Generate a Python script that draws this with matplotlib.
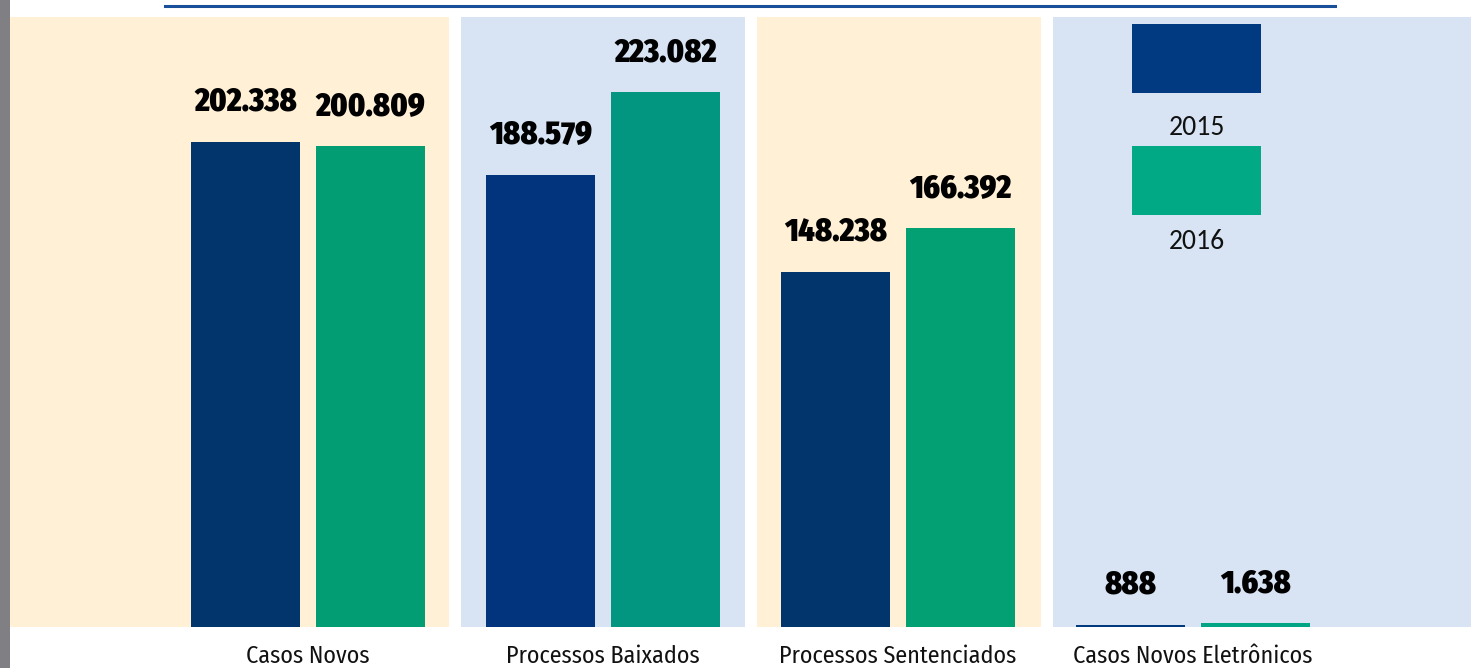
import matplotlib
matplotlib.use("Agg")
import matplotlib.pyplot as plt
from matplotlib import font_manager as fm
from matplotlib.patches import Rectangle
from matplotlib.lines import Line2D

# ---------------- data ----------------
categories = ["Casos Novos", "Processos Baixados", "Processos Sentenciados", "Casos Novos Eletrônicos"]
series_names = ["2015", "2016"]
values_2015 = [202338, 188579, 148238, 888]
values_2016 = [200809, 223082, 166392, 1638]

# ---------------- styles ----------------
colors_2015 = ["#03356D", "#02337D", "#03356D", "#023A80"]
colors_2016 = ["#029D72", "#02957F", "#02A073", "#01A584"]
legend_colors = ["#013A80", "#01A985"]
panel_colors = ["#FFF0D6", "#D8E4F4", "#FFF0D6", "#D8E4F4"]


def avail(name):
    try:
        fm.findfont(fm.FontProperties(family=name), fallback_to_default=False)
        return True
    except Exception:
        return False


def pick(names):
    for n in names:
        if avail(n):
            return n
    return "DejaVu Sans"


heavy = pick(["Fira Sans Condensed", "Roboto Condensed", "Roboto"])
narrow = pick(["Fira Sans Condensed", "Archivo Narrow", "Roboto Condensed", "Roboto"])
legfont = pick(["Carlito", "Fira Sans Condensed", "Roboto"])

W, H = 1471, 668
DPI = 100
fig = plt.figure(figsize=(W / DPI, H / DPI), dpi=DPI, facecolor="white")
renderer = fig.canvas.get_renderer()


def fit(artist, target_px):
    for _ in range(3):
        w = artist.get_window_extent(renderer).width
        if w > 0:
            artist.set_fontsize(artist.get_fontsize() * target_px / w)


UNIT = 295.0      # pixels per group
X0 = 308.0        # pixel centre of first group
base_px, top_px = 627, 17
ax = fig.add_axes([0, (H - base_px) / H, 1, (base_px - top_px) / H])
ax.set_xlim(-X0 / UNIT, (W - X0) / UNIT)
ax.set_ylim(0, 254480)
ax.set_facecolor("white")
for s in ax.spines.values():
    s.set_visible(False)
ax.set_yticks([])
ax.set_xticks([])


def px2x(p):
    return (p - X0) / UNIT


# panels
panel_edges = [(10, 449), (461, 745), (757, 1041), (1053, 1471)]
for (l, r), c in zip(panel_edges, panel_colors):
    ax.axvspan(px2x(l), px2x(r), color=c, lw=0, zorder=0)

bw = 109 / UNIT
off = 62.5 / UNIT
xs = list(range(len(categories)))
ax.bar([x - off for x in xs], values_2015, width=bw, color=colors_2015, zorder=2)
ax.bar([x + off for x in xs], values_2016, width=bw, color=colors_2016, zorder=2)


def fmt(v):
    return f"{v:,}".replace(",", ".")


PT = 72.0 / DPI
val_texts = []
for x, v in zip(xs, values_2015):
    val_texts.append(ax.annotate(fmt(v), xy=(x - off, v), xytext=(0, 31 * PT), textcoords="offset points",
                                 ha="center", va="baseline", fontsize=20, fontweight=900,
                                 family=heavy, color="black", zorder=3))
for x, v in zip(xs, values_2016):
    val_texts.append(ax.annotate(fmt(v), xy=(x + off, v), xytext=(0, 31 * PT), textcoords="offset points",
                                 ha="center", va="baseline", fontsize=20, fontweight=900,
                                 family=heavy, color="black", zorder=3))
fit(val_texts[0], 103)
for t in val_texts[1:]:
    t.set_fontsize(val_texts[0].get_fontsize())

cat_texts = []
for x, c in zip(xs, categories):
    cat_texts.append(ax.annotate(c, xy=(x, 0), xytext=(0, -36 * PT), textcoords="offset points",
                                 ha="center", va="baseline", fontsize=18, family=narrow,
                                 color="#111111", annotation_clip=False))
fit(cat_texts[2], 239)
for t in cat_texts:
    t.set_fontsize(cat_texts[2].get_fontsize())

# left gray strip
fig.patches.append(Rectangle((0, 0), 10 / W, 1, transform=fig.transFigure,
                             color="#808084", lw=0, zorder=5))
# top blue rule
fig.lines.append(Line2D([165 / W, 1335 / W], [1 - 5.5 / H, 1 - 5.5 / H],
                        transform=fig.transFigure, color="#1A4F9A", lw=2.2))

# legend
leg_boxes = [(24, 93, 135), (146, 215, 249)]
for (t, b, ty), name, c in zip(leg_boxes, series_names, legend_colors):
    fig.patches.append(Rectangle((1132 / W, 1 - b / H), 129 / W, (b - t) / H,
                                 transform=fig.transFigure, color=c, lw=0, zorder=5))
    lt = fig.text(1197 / W, 1 - ty / H, name, ha="center", va="baseline",
                  fontsize=20, family=legfont, color="#111111")
    fit(lt, 56)

fig.savefig("out.png", dpi=DPI, facecolor="white")
